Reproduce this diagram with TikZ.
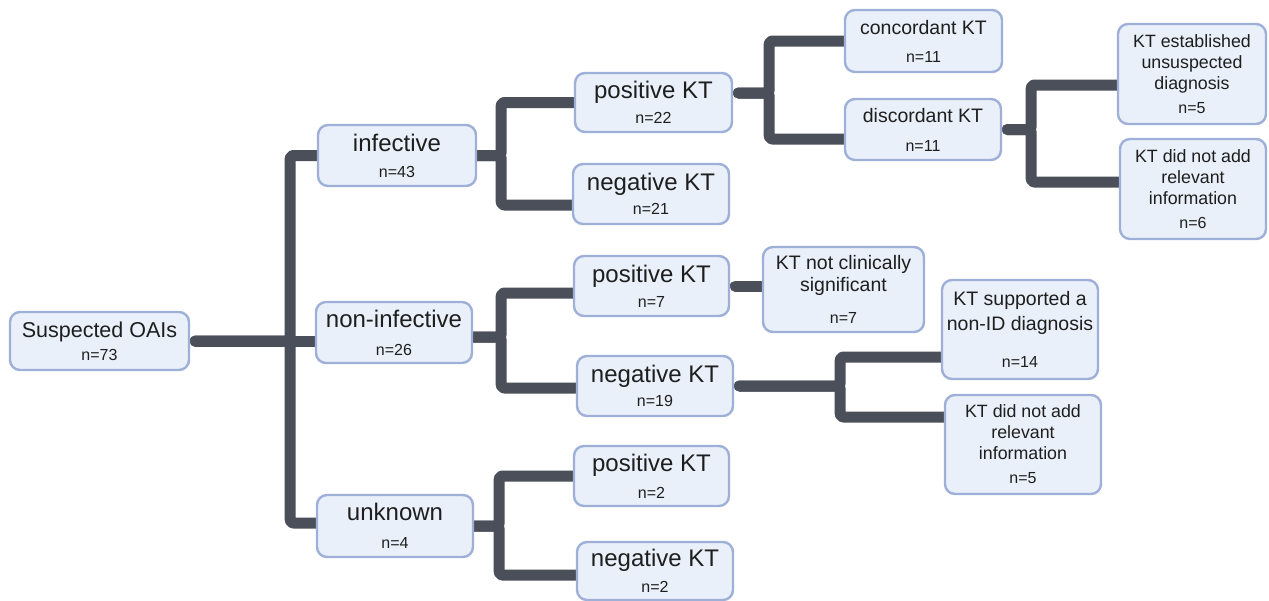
\documentclass[tikz,border=0pt]{standalone}
\usepackage{fontspec}
\setmainfont{Liberation Sans}
\usetikzlibrary{backgrounds}

\definecolor{linkcol}{RGB}{74,79,90}
\definecolor{boxline}{RGB}{158,176,216}
\definecolor{boxfill}{RGB}{233,240,250}
\definecolor{txtcol}{RGB}{30,30,30}

\newcommand\fsroot{\fontsize{21.5}{24}\selectfont}
\newcommand\fslvl{\fontsize{24}{25}\selectfont}
\newcommand\fsmid{\fontsize{19.5}{22}\selectfont}
\newcommand\fssml{\fontsize{17.8}{21}\selectfont}
\newcommand\fsn{\fontsize{16}{18}\selectfont}

\tikzset{
	box/.style={draw=boxline,fill=boxfill,line width=2.4pt,rounded corners=10pt,align=center,inner sep=0pt,text=txtcol},
	link/.style={draw=linkcol,line width=11pt,rounded corners=3pt,line cap=round,line join=round}
}

\begin{document}
\begin{tikzpicture}[x=1pt,y=-1pt]
			\useasboundingbox (0,0) rectangle (1269,600);
			%ROOT
			\node[box,minimum width=179pt,minimum height=58pt,font=\fsroot] (oai) at (99.5,341) {Suspected OAIs\\[-1pt]{\fsn n=73}};
			%FIRST LEVEL
			\node[box,minimum width=158pt,minimum height=61pt,font=\fslvl] (inf) at (397,155.5) {infective\\[1pt]{\fsn n=43}};
			\node[box,minimum width=156pt,minimum height=61pt,font=\fslvl] (noninf) at (394,332.5) {non-infective\\[3pt]{\fsn n=26}};
			\node[box,minimum width=156pt,minimum height=62pt,font=\fslvl] (unk) at (395,526) {unknown\\[3pt]{\fsn n=4}};
			%KT RESULTS
			\node[box,minimum width=157pt,minimum height=59pt,font=\fslvl] (infpos) at (653.5,102.5) {positive KT\\[0pt]{\fsn n=22}};
			\node[box,minimum width=156pt,minimum height=60pt,font=\fslvl] (infneg) at (651,194) {negative KT\\[-1pt]{\fsn n=21}};
			\node[box,minimum width=155pt,minimum height=60pt,font=\fslvl] (nonpos) at (651.5,286) {positive KT\\[0pt]{\fsn n=7}};
			\node[box,minimum width=156pt,minimum height=60pt,font=\fslvl] (nonneg) at (655,386) {negative KT\\[-1pt]{\fsn n=19}};
			\node[box,minimum width=155pt,minimum height=60pt,font=\fslvl] (unkpos) at (651.5,476) {positive KT\\[2pt]{\fsn n=2}};
			\node[box,minimum width=156pt,minimum height=58pt,font=\fslvl] (unkneg) at (655,571) {negative KT\\[1pt]{\fsn n=2}};
			%OUTCOMES
			\node[box,minimum width=157pt,minimum height=62pt,font=\fsmid] (conc) at (923.5,41) {concordant KT\\[6pt]{\fsn n=11}};
			\node[box,minimum width=156pt,minimum height=61pt,font=\fsmid] (disc) at (923,129.5) {discordant KT\\[7pt]{\fsn n=11}};
			\node[box,minimum width=148pt,minimum height=100pt,font=\fssml] (estab) at (1192,74) {KT established\\unsuspected\\diagnosis\\[3pt]{\fsn n=5}};
			\node[box,minimum width=146pt,minimum height=100pt,font=\fssml] (noadd1) at (1193,189) {KT did not add\\relevant\\information\\[3pt]{\fsn n=6}};
			\node[box,minimum width=161pt,minimum height=85pt,font=\fsmid] (notclin) at (843.5,289.5) {KT not clinically\\significant\\[10pt]{\fsn n=7}};
			\node[box,minimum width=156pt,minimum height=99pt,font=\fsmid] (support) at (1020,329.5) {KT supported a\\[3pt]non-ID diagnosis\\[15pt]{\fsn n=14}};
			\node[box,minimum width=156pt,minimum height=99pt,font=\fssml] (noadd2) at (1023,444.5) {KT did not add\\relevant\\information\\[3pt]{\fsn n=5}};
			%CONNECTORS
			\begin{pgfonlayer}{background}
				\fill[white] (0,0) rectangle (1269,600);
				\draw[link] ([xshift=5pt]oai.east) -- ++(95,0) |- (inf.west);
				\draw[link] ([xshift=5pt]oai.east) -- (noninf.west |- oai.east);
				\draw[link] ([xshift=5pt]oai.east) -- ++(95,0) |- ([yshift=3pt]unk.west);
				\draw[link] (inf.east) -- ++(24,0) |- (infpos.west);
				\draw[link] (inf.east) -- ++(24,0) |- ([yshift=-11pt]infneg.west);
				\draw[link] ([yshift=-4.5pt]noninf.east) -- ++(28,0) |- ([yshift=-7pt]nonpos.west);
				\draw[link] ([yshift=-4.5pt]noninf.east) -- ++(28,0) |- ([yshift=-2pt]nonneg.west);
				\draw[link] (unk.east) -- ++(25,0) |- (unkpos.west);
				\draw[link] (unk.east) -- ++(25,0) |- ([yshift=-4pt]unkneg.west);
				\draw[link] ([shift={(5pt,9.5pt)}]infpos.east) -- ++(31,0) |- (conc.west);
				\draw[link] ([shift={(5pt,9.5pt)}]infpos.east) -- ++(31,0) |- ([yshift=-9.5pt]disc.west);
				\draw[link] ([xshift=5pt]disc.east) -- ++(24,0) |- ([yshift=-11pt]estab.west);
				\draw[link] ([xshift=5pt]disc.east) -- ++(24,0) |- ([yshift=7pt]noadd1.west);
				\draw[link] ([xshift=5pt]nonpos.east) -- (notclin.west |- nonpos.east);
				\draw[link] ([xshift=5pt]nonneg.east) -- ++(101,0) |- ([yshift=-27.5pt]support.west);
				\draw[link] ([xshift=5pt]nonneg.east) -- ++(101,0) |- ([yshift=27.5pt]noadd2.west);
			\end{pgfonlayer}
		\end{tikzpicture}
\end{document}
